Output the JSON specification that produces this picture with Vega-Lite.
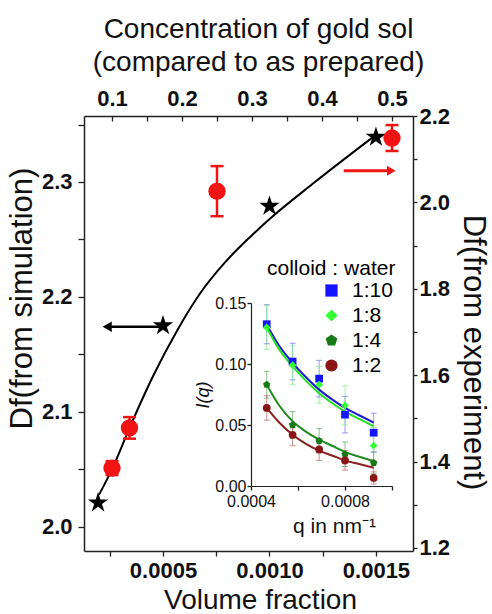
{
"$schema":"https://vega.github.io/schema/vega-lite/v6.json",
"width":329,"height":435,"autosize":"none",
"padding":{"left":84,"top":116,"right":79,"bottom":63},
"background":"white",
"config":{"view":{"stroke":null},"font":"Liberation Sans","axis":{"grid":false,"domainColor":"#222","tickColor":"#222","labelColor":"#111","titleColor":"#111","labelFont":"Liberation Sans","titleFont":"Liberation Sans","labelFlush":false,"labelOverlap":false,"titleFontWeight":"normal","domainWidth":1.5,"tickWidth":1.3}},
"datasets":{
"curve":[{"vf":0.0002,"df":2.028},{"vf":0.000265,"df":2.052},{"vf":0.000345,"df":2.087},{"vf":0.000453,"df":2.131},{"vf":0.00057,"df":2.172},{"vf":0.000674,"df":2.203},{"vf":0.000791,"df":2.23},{"vf":0.000908,"df":2.252},{"vf":0.001002,"df":2.268},{"vf":0.0012,"df":2.298},{"vf":0.0015,"df":2.341}],
"stars":[{"vf":0.000195,"df":2.021},{"vf":0.0005,"df":2.175},{"vf":0.001,"df":2.279},{"vf":0.0015,"df":2.339}],
"barrow":[{"vf":0.00023,"vf2":0.00049,"df":2.174}],
"bhead":[{"vf":0.000238,"df":2.174}],
"exp":[{"conc":0.1,"dfe":1.385,"lo":1.369,"hi":1.401},{"conc":0.125,"dfe":1.478,"lo":1.453,"hi":1.503},{"conc":0.25,"dfe":2.026,"lo":1.968,"hi":2.084},{"conc":0.5,"dfe":2.149,"lo":2.119,"hi":2.179}],
"rarrow":[{"conc":0.431,"conc2":0.495,"dfe":2.073}],
"rhead":[{"conc":0.499,"dfe":2.073}],
"ipts":[
{"ratio":"1:10","q":0.000467,"I":0.1326,"lo":0.1166,"hi":0.1486},{"ratio":"1:10","q":0.000577,"I":0.102,"lo":0.087,"hi":0.117},{"ratio":"1:10","q":0.00069,"I":0.088,"lo":0.073,"hi":0.103},{"ratio":"1:10","q":0.0008,"I":0.0585,"lo":0.0435,"hi":0.0735},{"ratio":"1:10","q":0.000922,"I":0.0437,"lo":0.0277,"hi":0.0597},
{"ratio":"1:8","q":0.000467,"I":0.13,"lo":0.112,"hi":0.148},{"ratio":"1:8","q":0.000577,"I":0.099,"lo":0.083,"hi":0.115},{"ratio":"1:8","q":0.00069,"I":0.083,"lo":0.068,"hi":0.098},{"ratio":"1:8","q":0.0008,"I":0.066,"lo":0.05,"hi":0.082},{"ratio":"1:8","q":0.000922,"I":0.033,"lo":0.018,"hi":0.048},
{"ratio":"1:4","q":0.000467,"I":0.083,"lo":0.072,"hi":0.094},{"ratio":"1:4","q":0.000577,"I":0.05,"lo":0.039,"hi":0.061},{"ratio":"1:4","q":0.00069,"I":0.037,"lo":0.027,"hi":0.047},{"ratio":"1:4","q":0.0008,"I":0.026,"lo":0.016,"hi":0.036},{"ratio":"1:4","q":0.000922,"I":0.019,"lo":0.01,"hi":0.028},
{"ratio":"1:2","q":0.000467,"I":0.064,"lo":0.054,"hi":0.074},{"ratio":"1:2","q":0.000577,"I":0.042,"lo":0.033,"hi":0.051},{"ratio":"1:2","q":0.00069,"I":0.03,"lo":0.021,"hi":0.039},{"ratio":"1:2","q":0.0008,"I":0.021,"lo":0.013,"hi":0.029},{"ratio":"1:2","q":0.000922,"I":0.0066,"lo":0.0016,"hi":0.0116}],
"ifit":[
{"ratio":"1:10","q":0.000467,"I":0.132},{"ratio":"1:10","q":0.00052,"I":0.115},{"ratio":"1:10","q":0.000577,"I":0.101},{"ratio":"1:10","q":0.00063,"I":0.09},{"ratio":"1:10","q":0.00069,"I":0.079},{"ratio":"1:10","q":0.000745,"I":0.071},{"ratio":"1:10","q":0.0008,"I":0.064},{"ratio":"1:10","q":0.00086,"I":0.058},{"ratio":"1:10","q":0.000922,"I":0.052},
{"ratio":"1:8","q":0.000467,"I":0.13},{"ratio":"1:8","q":0.00052,"I":0.112},{"ratio":"1:8","q":0.000577,"I":0.098},{"ratio":"1:8","q":0.00063,"I":0.087},{"ratio":"1:8","q":0.00069,"I":0.076},{"ratio":"1:8","q":0.000745,"I":0.068},{"ratio":"1:8","q":0.0008,"I":0.061},{"ratio":"1:8","q":0.00086,"I":0.055},{"ratio":"1:8","q":0.000922,"I":0.049},
{"ratio":"1:4","q":0.000467,"I":0.083},{"ratio":"1:4","q":0.00052,"I":0.066},{"ratio":"1:4","q":0.000577,"I":0.053},{"ratio":"1:4","q":0.00063,"I":0.045},{"ratio":"1:4","q":0.00069,"I":0.038},{"ratio":"1:4","q":0.000745,"I":0.033},{"ratio":"1:4","q":0.0008,"I":0.028},{"ratio":"1:4","q":0.00086,"I":0.024},{"ratio":"1:4","q":0.000922,"I":0.0205},
{"ratio":"1:2","q":0.000467,"I":0.064},{"ratio":"1:2","q":0.00052,"I":0.052},{"ratio":"1:2","q":0.000577,"I":0.042},{"ratio":"1:2","q":0.00063,"I":0.035},{"ratio":"1:2","q":0.00069,"I":0.029},{"ratio":"1:2","q":0.000745,"I":0.025},{"ratio":"1:2","q":0.0008,"I":0.021},{"ratio":"1:2","q":0.00086,"I":0.018},{"ratio":"1:2","q":0.000922,"I":0.015}]
},
"resolve":{"scale":{"x":"independent","y":"independent","color":"independent","shape":"independent"},"axis":{"x":"independent","y":"independent"},"legend":{"color":"independent","shape":"independent"}},
"layer":[
{"data":{"name":"curve"},"mark":{"type":"line","color":"#000","strokeWidth":2,"interpolate":"monotone"},
 "encoding":{
  "x":{"field":"vf","type":"quantitative","scale":{"domain":[0.000129,0.001674],"nice":false,"zero":false},
   "axis":{"orient":"bottom","title":"Volume fraction","values":[0.00025,0.0005,0.00075,0.001,0.00125,0.0015],"labelExpr":"abs(datum.value*2000-round(datum.value*2000))<0.001 ? format(datum.value,'.4f') : ''","labelFontSize":22,"labelFontWeight":"bold","tickSize":5,"labelPadding":4,"titleFontSize":28,"titleX":176,"titleY":57,"titleBaseline":"alphabetic","titleAlign":"center"}},
  "y":{"field":"df","type":"quantitative","scale":{"domain":[1.979,2.3574],"nice":false,"zero":false},
   "axis":{"orient":"left","title":"Df(from simulation)","values":[2.0,2.05,2.1,2.15,2.2,2.25,2.3,2.35],"labelExpr":"abs(datum.value*10-round(datum.value*10))<0.001 ? format(datum.value,'.1f') : ''","labelFontSize":22,"labelFontWeight":"bold","tickSize":6,"labelPadding":6,"titleFontSize":31,"titleX":-53,"titleY":182,"titleBaseline":"alphabetic","titleAlign":"center","titleAngle":-90}}}},
{"data":{"name":"stars"},"mark":{"type":"point","filled":true,"color":"#000","opacity":1,"size":460,"shape":"M0,-1L0.2245,-0.309L0.9511,-0.309L0.3633,0.118L0.5878,0.809L0,0.382L-0.5878,0.809L-0.3633,0.118L-0.9511,-0.309L-0.2245,-0.309Z"},
 "encoding":{"x":{"field":"vf","type":"quantitative","scale":{"domain":[0.000129,0.001674],"nice":false,"zero":false},"axis":null},
  "y":{"field":"df","type":"quantitative","scale":{"domain":[1.979,2.3574],"nice":false,"zero":false},"axis":null}}},
{"data":{"name":"barrow"},"mark":{"type":"rule","color":"#000","strokeWidth":2.5},
 "encoding":{"x":{"field":"vf","type":"quantitative","scale":{"domain":[0.000129,0.001674],"nice":false,"zero":false},"axis":null},"x2":{"field":"vf2"},
  "y":{"field":"df","type":"quantitative","scale":{"domain":[1.979,2.3574],"nice":false,"zero":false},"axis":null}}},
{"data":{"name":"bhead"},"mark":{"type":"point","filled":true,"color":"#000","opacity":1,"size":110,"shape":"triangle-left"},
 "encoding":{"x":{"field":"vf","type":"quantitative","scale":{"domain":[0.000129,0.001674],"nice":false,"zero":false},"axis":null},
  "y":{"field":"df","type":"quantitative","scale":{"domain":[1.979,2.3574],"nice":false,"zero":false},"axis":null}}},
{"data":{"name":"exp"},"mark":{"type":"rule","color":"#f01414","strokeWidth":2.5},
 "encoding":{"x":{"field":"conc","type":"quantitative","scale":{"domain":[0.06,0.53],"nice":false,"zero":false},"axis":null},
  "y":{"field":"lo","type":"quantitative","scale":{"domain":[1.193,2.2],"nice":false,"zero":false},"axis":null},"y2":{"field":"hi"}}},
{"data":{"name":"exp"},"mark":{"type":"tick","color":"#f01414","thickness":2.5,"size":13,"orient":"horizontal","opacity":1},
 "encoding":{"x":{"field":"conc","type":"quantitative","scale":{"domain":[0.06,0.53],"nice":false,"zero":false},"axis":null},
  "y":{"field":"lo","type":"quantitative","scale":{"domain":[1.193,2.2],"nice":false,"zero":false},"axis":null}}},
{"data":{"name":"exp"},"mark":{"type":"tick","color":"#f01414","thickness":2.5,"size":13,"orient":"horizontal","opacity":1},
 "encoding":{"x":{"field":"conc","type":"quantitative","scale":{"domain":[0.06,0.53],"nice":false,"zero":false},"axis":null},
  "y":{"field":"hi","type":"quantitative","scale":{"domain":[1.193,2.2],"nice":false,"zero":false},"axis":null}}},
{"data":{"name":"exp"},"mark":{"type":"point","filled":true,"color":"#f01414","opacity":1,"size":300,"shape":"circle"},
 "encoding":{"x":{"field":"conc","type":"quantitative","scale":{"domain":[0.06,0.53],"nice":false,"zero":false},
   "axis":{"orient":"top","title":["Concentration of gold sol","(compared to as prepared)"],"values":[0.1,0.15,0.2,0.25,0.3,0.35,0.4,0.45,0.5],"labelExpr":"abs(datum.value*10-round(datum.value*10))<0.001 ? format(datum.value,'.1f') : ''","labelFontSize":22,"labelFontWeight":"bold","tickSize":-5,"labelPadding":11,"titleFontSize":28,"titleLineHeight":33,"titleX":174,"titleY":-79,"titleBaseline":"alphabetic","titleAlign":"center"}},
  "y":{"field":"dfe","type":"quantitative","scale":{"domain":[1.193,2.2],"nice":false,"zero":false},
   "axis":{"orient":"right","title":"Df(from experiment)","values":[1.2,1.3,1.4,1.5,1.6,1.7,1.8,1.9,2.0,2.1,2.2],"labelExpr":"abs(datum.value*5-round(datum.value*5))<0.001 ? format(datum.value,'.1f') : ''","labelFontSize":22,"labelFontWeight":"bold","tickSize":4,"labelPadding":2,"titleFontSize":31,"titleX":50,"titleY":236,"titleBaseline":"alphabetic","titleAlign":"center","titleAngle":90}}}},
{"data":{"name":"rarrow"},"mark":{"type":"rule","color":"#f01414","strokeWidth":3},
 "encoding":{"x":{"field":"conc","type":"quantitative","scale":{"domain":[0.06,0.53],"nice":false,"zero":false},"axis":null},"x2":{"field":"conc2"},
  "y":{"field":"dfe","type":"quantitative","scale":{"domain":[1.193,2.2],"nice":false,"zero":false},"axis":null}}},
{"data":{"name":"rhead"},"mark":{"type":"point","filled":true,"color":"#f01414","opacity":1,"size":100,"shape":"triangle-right"},
 "encoding":{"x":{"field":"conc","type":"quantitative","scale":{"domain":[0.06,0.53],"nice":false,"zero":false},"axis":null},
  "y":{"field":"dfe","type":"quantitative","scale":{"domain":[1.193,2.2],"nice":false,"zero":false},"axis":null}}},
{"data":{"name":"ipts"},"mark":{"type":"rule","strokeWidth":1,"opacity":0.8},
 "encoding":{"x":{"field":"q","type":"quantitative","scale":{"domain":[0.0004,0.001],"range":[167,308],"nice":false,"zero":false},"axis":null},
  "y":{"field":"lo","type":"quantitative","scale":{"domain":[0,0.15],"range":[370,187],"nice":false,"zero":false},"axis":null},"y2":{"field":"hi"},
  "color":{"field":"ratio","type":"nominal","scale":{"domain":["1:10","1:8","1:4","1:2"],"range":["#7f7fff","#8ef08e","#6fae6f","#c07070"]},"legend":null}}},
{"data":{"name":"ipts"},"mark":{"type":"tick","thickness":1,"size":6,"orient":"horizontal","opacity":0.8},
 "encoding":{"x":{"field":"q","type":"quantitative","scale":{"domain":[0.0004,0.001],"range":[167,308],"nice":false,"zero":false},"axis":null},
  "y":{"field":"lo","type":"quantitative","scale":{"domain":[0,0.15],"range":[370,187],"nice":false,"zero":false},"axis":null},
  "color":{"field":"ratio","type":"nominal","scale":{"domain":["1:10","1:8","1:4","1:2"],"range":["#7f7fff","#8ef08e","#6fae6f","#c07070"]},"legend":null}}},
{"data":{"name":"ipts"},"mark":{"type":"tick","thickness":1,"size":6,"orient":"horizontal","opacity":0.8},
 "encoding":{"x":{"field":"q","type":"quantitative","scale":{"domain":[0.0004,0.001],"range":[167,308],"nice":false,"zero":false},"axis":null},
  "y":{"field":"hi","type":"quantitative","scale":{"domain":[0,0.15],"range":[370,187],"nice":false,"zero":false},"axis":null},
  "color":{"field":"ratio","type":"nominal","scale":{"domain":["1:10","1:8","1:4","1:2"],"range":["#7f7fff","#8ef08e","#6fae6f","#c07070"]},"legend":null}}},
{"data":{"name":"ifit"},"mark":{"type":"line","strokeWidth":2,"interpolate":"monotone"},
 "encoding":{"x":{"field":"q","type":"quantitative","scale":{"domain":[0.0004,0.001],"range":[167,308],"nice":false,"zero":false},
   "axis":{"orient":"bottom","offset":-65,"title":"q in nm⁻¹","values":[0.0004,0.0006,0.0008,0.001],"labelExpr":"abs(datum.value*2500-round(datum.value*2500))<0.001 ? format(datum.value,'.4f') : ''","labelFontSize":16,"tickSize":4,"labelPadding":3,"titleFontSize":21,"titleX":250,"titleY":46,"titleBaseline":"alphabetic","titleAlign":"center","domainWidth":1.2}},
  "y":{"field":"I","type":"quantitative","scale":{"domain":[0,0.15],"range":[370,187],"nice":false,"zero":false},
   "axis":{"orient":"left","offset":-167,"title":"I(q)","titleFontStyle":"italic","values":[0,0.05,0.1,0.15],"format":".2f","labelFontSize":16,"tickSize":4,"labelPadding":1,"titleFontSize":18,"titlePadding":2,"domainWidth":1.2}},
  "color":{"field":"ratio","type":"nominal","scale":{"domain":["1:10","1:8","1:4","1:2"],"range":["#1a1ad0","#22e022","#228b22","#8b2020"]},"legend":null}}},
{"data":{"name":"ipts"},"mark":{"type":"point","filled":true,"opacity":1,"size":60},
 "encoding":{"x":{"field":"q","type":"quantitative","scale":{"domain":[0.0004,0.001],"range":[167,308],"nice":false,"zero":false},"axis":null},
  "y":{"field":"I","type":"quantitative","scale":{"domain":[0,0.15],"range":[370,187],"nice":false,"zero":false},"axis":null},
  "color":{"field":"ratio","type":"nominal","scale":{"domain":["1:10","1:8","1:4","1:2"],"range":["#1414ff","#33ff33","#157a15","#8b1515"]},
   "legend":{"orient":"none","legendX":183,"legendY":142,"title":"colloid : water","titleFontSize":21,"titleFontWeight":"normal","titleColor":"#000","titlePadding":1,"labelFontSize":21,"labelColor":"#000","symbolSize":150,"symbolOffset":54,"labelOffset":10,"rowPadding":3}},
  "shape":{"field":"ratio","type":"nominal","scale":{"domain":["1:10","1:8","1:4","1:2"],"range":["square","diamond","M0,-1L0.951,-0.309L0.588,0.809L-0.588,0.809L-0.951,-0.309Z","circle"]},
   "legend":{"orient":"none","legendX":183,"legendY":142,"title":"colloid : water","titleFontSize":21,"titleFontWeight":"normal","titleColor":"#000","titlePadding":1,"labelFontSize":21,"labelColor":"#000","symbolSize":150,"symbolOffset":54,"labelOffset":10,"rowPadding":3}}}}
]
}
